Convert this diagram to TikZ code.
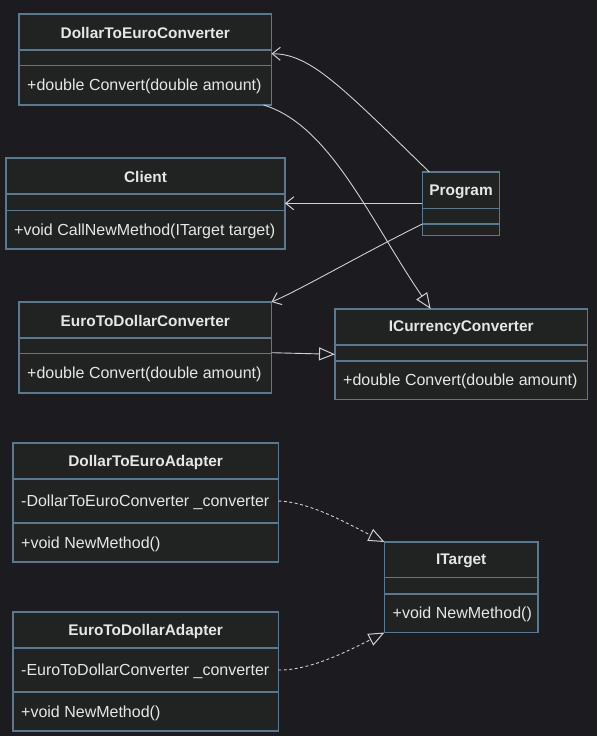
\documentclass[tikz,border=0pt]{standalone}
\usepackage{fontspec}
\setmainfont{Liberation Sans}
\usetikzlibrary{arrows.meta}
\definecolor{bg}{HTML}{1C1C20}
\definecolor{boxfill}{HTML}{212322}
\definecolor{boxline}{HTML}{5A7890}
\definecolor{txt}{HTML}{E6E6E6}
\definecolor{edge}{HTML}{D0D0D0}
\tikzset{
  umlbox/.style={draw=boxline, fill=boxfill, line width=1.15pt, inner sep=0pt, outer sep=0pt},
  umlline/.style={draw=boxline, line width=1.15pt},
  umltitle/.style={text=txt, font=\fontsize{15.4}{18}\selectfont\bfseries, inner sep=0pt},
  umltext/.style={text=txt, font=\fontsize{16}{19}\selectfont, inner sep=0pt, anchor=west},
  dep/.style={draw=edge, line width=0.9pt, -{Straight Barb[length=8pt,width=13pt,line width=1pt]}},
  inh/.style={draw=edge, line width=0.9pt, -{Triangle[open,length=16pt,width=13pt,line width=1pt]}},
  real/.style={inh, dash pattern=on 3pt off 2.5pt},
}
\newcommand\umlclass[8]{%
  \node[umlbox, minimum width=#4pt, minimum height={#5pt+#6pt+#7pt}, anchor=north west] (#1) at (#2,#3) {};
  \draw[umlline] ([yshift=-#5pt]#1.north west) -- ([yshift=-#5pt]#1.north east);
  \draw[umlline] ([yshift={-#5pt-#6pt}]#1.north west) -- ([yshift={-#5pt-#6pt}]#1.north east);
  \node[umltitle] (#1-title) at ([yshift={-#5pt/2-1.2pt}]#1.north) {#8};
  \coordinate (#1-attr) at ([xshift=8pt, yshift={-#5pt-#6pt/2}]#1.north west);
  \coordinate (#1-attrtxt) at ([xshift=8pt, yshift={-#5pt-#6pt/2-1.4pt}]#1.north west);
  \coordinate (#1-meth) at ([xshift=8pt, yshift={-#5pt-#6pt-#7pt/2-1.4pt}]#1.north west);
}
\begin{document}
\begin{tikzpicture}[x=1pt, y=-1pt]
\fill[bg] (0,0) rectangle (597,736);
\useasboundingbox (0,0) rectangle (597,736);

\umlclass{DEC}{19}{14}{252.5}{36}{15.5}{39.5}{DollarToEuroConverter}
\node[umltext] (DEC-m) at (DEC-meth) {+double Convert(double amount)};

\umlclass{Client}{6}{158}{279}{36}{16.5}{38.5}{Client}
\node[umltext] (Client-m) at (Client-meth) {+void CallNewMethod(ITarget target)};

\umlclass{Program}{422.3}{172}{77.5}{36.5}{15.5}{11.5}{Program}

\umlclass{EDC}{19}{302}{252.5}{36}{15.5}{39.5}{EuroToDollarConverter}
\node[umltext] (EDC-m) at (EDC-meth) {+double Convert(double amount)};

\umlclass{ICC}{335}{309}{252.5}{36}{16}{38.5}{ICurrencyConverter}
\node[umltext] (ICC-m) at (ICC-meth) {+double Convert(double amount)};

\umlclass{DEA}{13}{443}{265.3}{36}{44}{39}{DollarToEuroAdapter}
\node[umltext] (DEA-a) at (DEA-attrtxt) {-DollarToEuroConverter \_converter};
\node[umltext] (DEA-m) at (DEA-meth) {+void NewMethod()};

\umlclass{EDA}{13}{612}{265.3}{36}{44}{39}{EuroToDollarAdapter}
\node[umltext] (EDA-a) at (EDA-attrtxt) {-EuroToDollarConverter \_converter};
\node[umltext] (EDA-m) at (EDA-meth) {+void NewMethod()};

\umlclass{ITarget}{384.5}{542}{153.5}{35.5}{16.5}{38.5}{ITarget}
\node[umltext] (ITarget-m) at (ITarget-meth) {+void NewMethod()};

% connectors
\draw[dep] ([xshift=7pt]Program.north west) .. controls (340,85) and (310,54) .. ([yshift=-39.7pt]DEC.north east);
\draw[dep] ([yshift=-31.3pt]Program.north west) -- ([yshift=-45.3pt]Client.north east);
\draw[dep] ([yshift=-52pt]Program.north west) .. controls (360,255) and (300,290) .. (EDC.north east);
\draw[inh] ([xshift=-8pt]DEC.south east) .. controls (330,125) and (370,220) .. ([xshift=95.7pt]ICC.north west);
\draw[inh] ([yshift=-50.7pt]EDC.north east) -- ([yshift=-45.3pt]ICC.north west);
\draw[real] (DEA-attr -| DEA.east) .. controls (310,501.7) and (350,525) .. (ITarget.north west);
\draw[real] (EDA-attr -| EDA.east) .. controls (310,670.7) and (350,650) .. (ITarget.south west);
\end{tikzpicture}
\end{document}
